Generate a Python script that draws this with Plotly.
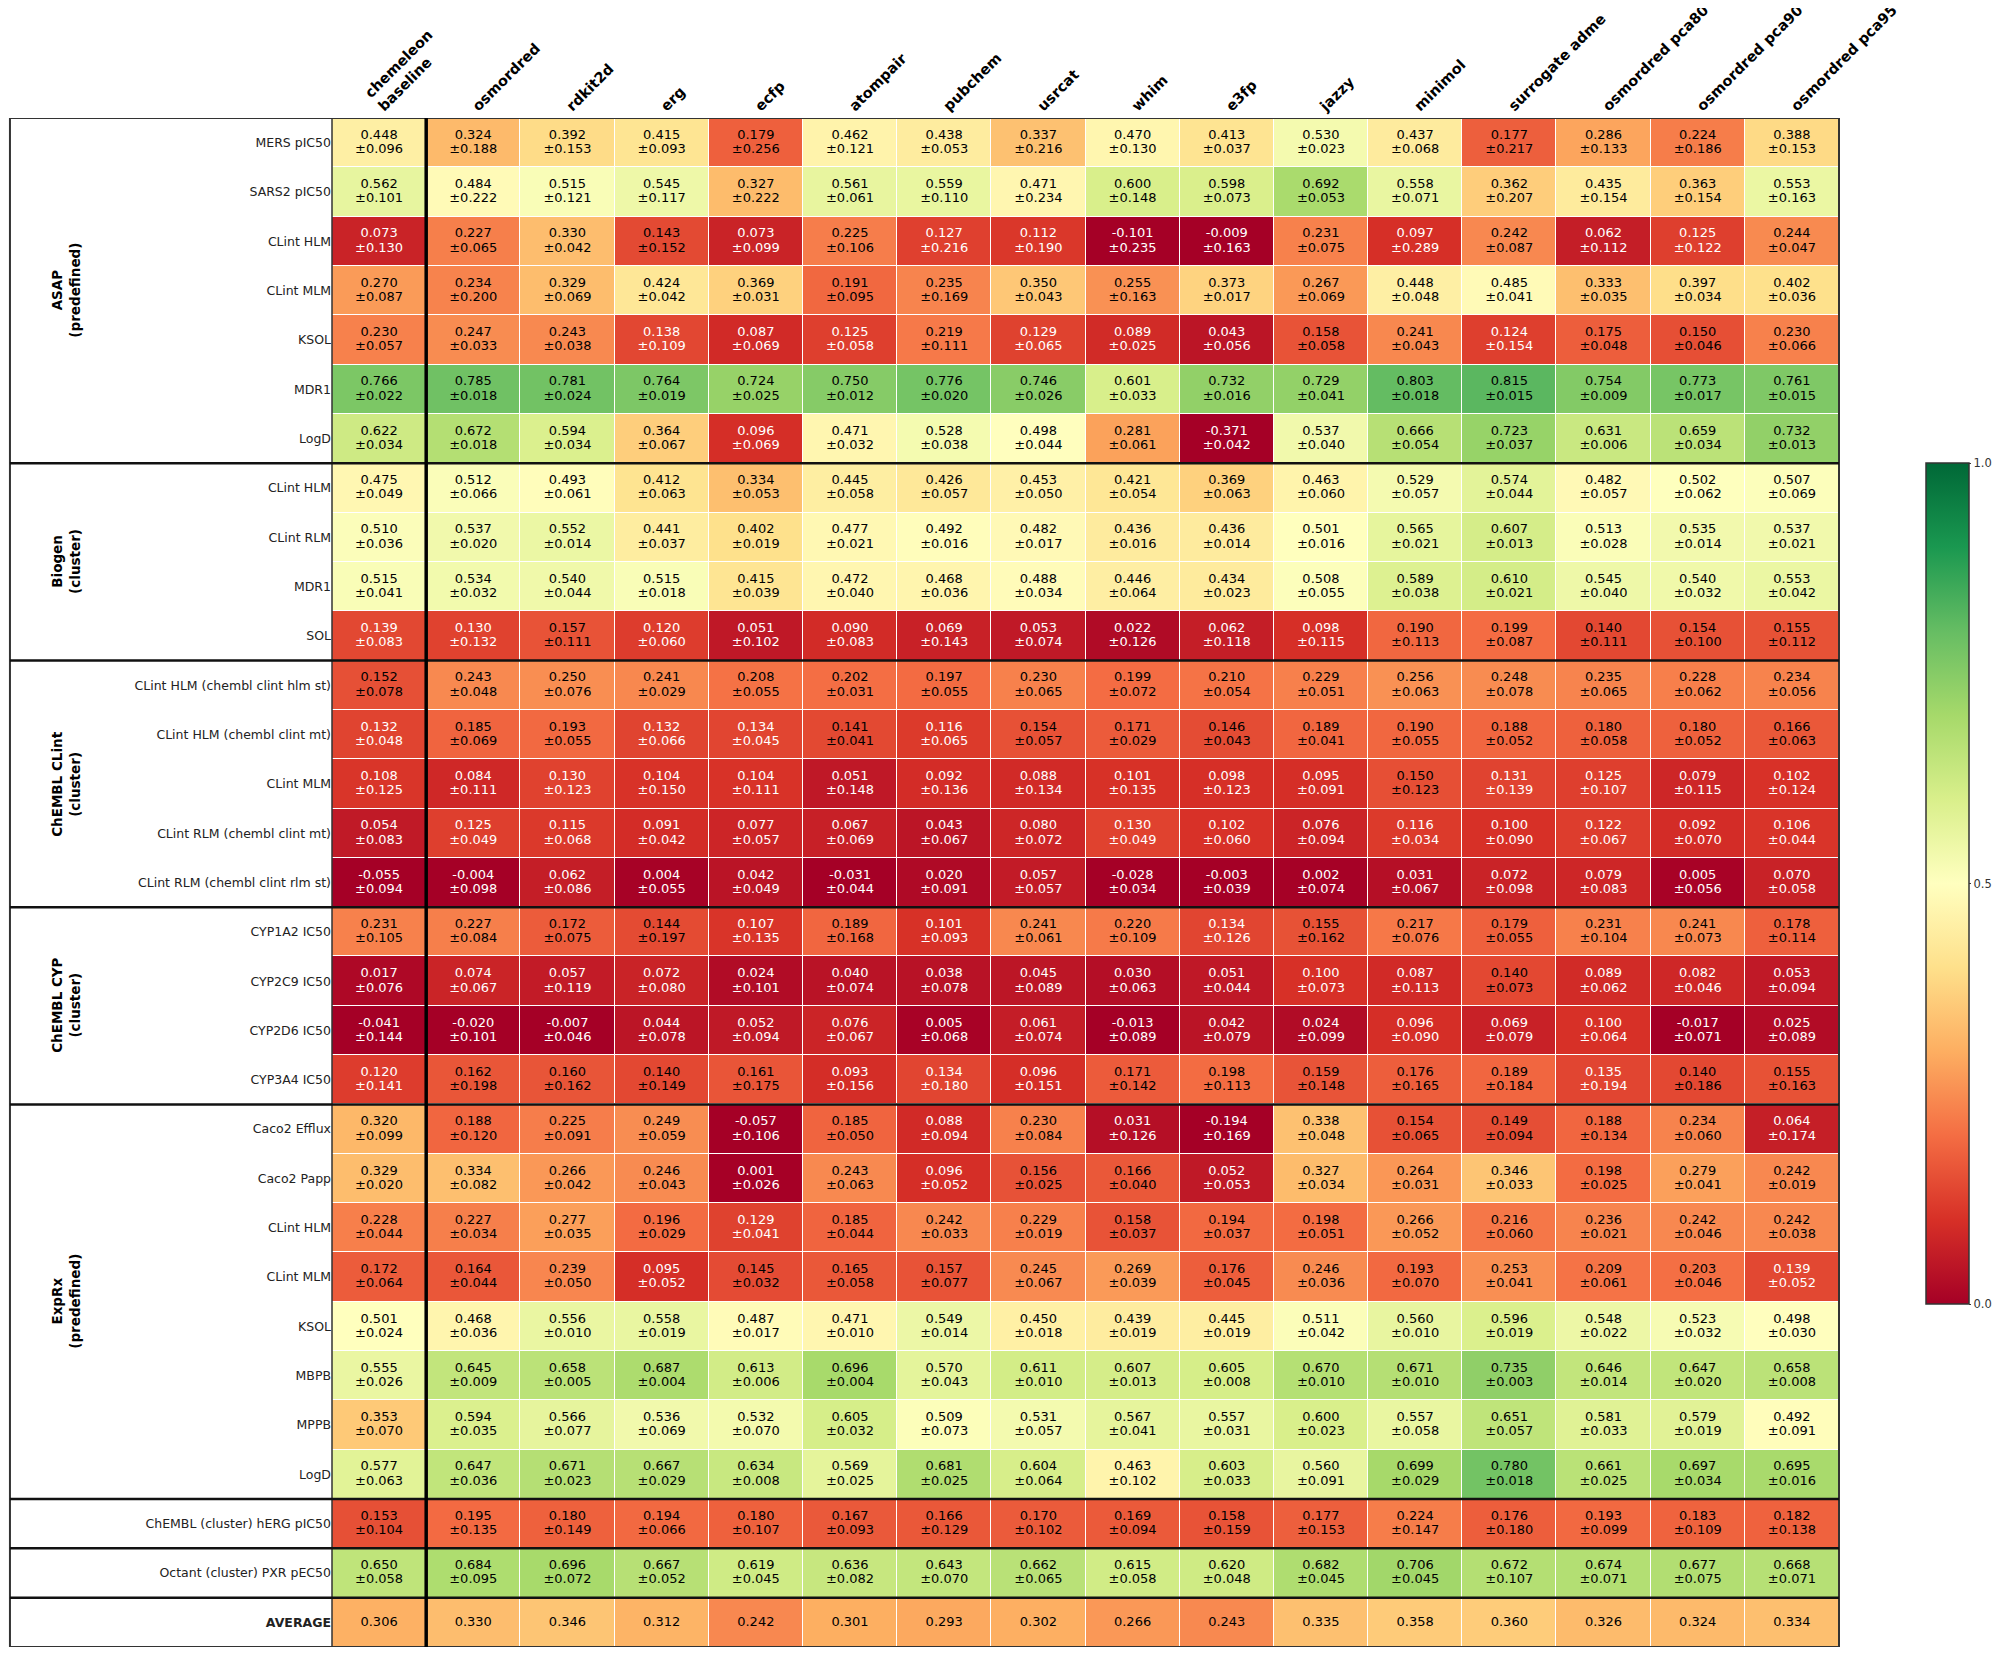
import plotly.graph_objects as go

# columns (featurizers)
METHODS = ["chemeleon<br>baseline", "osmordred", "rdkit2d", "erg", "ecfp", "atompair",
           "pubchem", "usrcat", "whim", "e3fp", "jazzy", "minimol", "surrogate adme",
           "osmordred pca80", "osmordred pca90", "osmordred pca95"]

# ---- ASAP (predefined)
ASAP_TASKS = ["MERS pIC50", "SARS2 pIC50", "CLint HLM", "CLint MLM", "KSOL", "MDR1", "LogD"]
ASAP_MEAN = [
    [0.448, 0.324, 0.392, 0.415, 0.179, 0.462, 0.438, 0.337, 0.470, 0.413, 0.530, 0.437, 0.177, 0.286, 0.224, 0.388],
    [0.562, 0.484, 0.515, 0.545, 0.327, 0.561, 0.559, 0.471, 0.600, 0.598, 0.692, 0.558, 0.362, 0.435, 0.363, 0.553],
    [0.073, 0.227, 0.330, 0.143, 0.073, 0.225, 0.127, 0.112, -0.101, -0.009, 0.231, 0.097, 0.242, 0.062, 0.125, 0.244],
    [0.270, 0.234, 0.329, 0.424, 0.369, 0.191, 0.235, 0.350, 0.255, 0.373, 0.267, 0.448, 0.485, 0.333, 0.397, 0.402],
    [0.230, 0.247, 0.243, 0.138, 0.087, 0.125, 0.219, 0.129, 0.089, 0.043, 0.158, 0.241, 0.124, 0.175, 0.150, 0.230],
    [0.766, 0.785, 0.781, 0.764, 0.724, 0.750, 0.776, 0.746, 0.601, 0.732, 0.729, 0.803, 0.815, 0.754, 0.773, 0.761],
    [0.622, 0.672, 0.594, 0.364, 0.096, 0.471, 0.528, 0.498, 0.281, -0.371, 0.537, 0.666, 0.723, 0.631, 0.659, 0.732],
]
ASAP_STD = [
    [0.096, 0.188, 0.153, 0.093, 0.256, 0.121, 0.053, 0.216, 0.130, 0.037, 0.023, 0.068, 0.217, 0.133, 0.186, 0.153],
    [0.101, 0.222, 0.121, 0.117, 0.222, 0.061, 0.110, 0.234, 0.148, 0.073, 0.053, 0.071, 0.207, 0.154, 0.154, 0.163],
    [0.130, 0.065, 0.042, 0.152, 0.099, 0.106, 0.216, 0.190, 0.235, 0.163, 0.075, 0.289, 0.087, 0.112, 0.122, 0.047],
    [0.087, 0.200, 0.069, 0.042, 0.031, 0.095, 0.169, 0.043, 0.163, 0.017, 0.069, 0.048, 0.041, 0.035, 0.034, 0.036],
    [0.057, 0.033, 0.038, 0.109, 0.069, 0.058, 0.111, 0.065, 0.025, 0.056, 0.058, 0.043, 0.154, 0.048, 0.046, 0.066],
    [0.022, 0.018, 0.024, 0.019, 0.025, 0.012, 0.020, 0.026, 0.033, 0.016, 0.041, 0.018, 0.015, 0.009, 0.017, 0.015],
    [0.034, 0.018, 0.034, 0.067, 0.069, 0.032, 0.038, 0.044, 0.061, 0.042, 0.040, 0.054, 0.037, 0.006, 0.034, 0.013],
]

# ---- Biogen (cluster)
BIOGEN_TASKS = ["CLint HLM", "CLint RLM", "MDR1", "SOL"]
BIOGEN_MEAN = [
    [0.475, 0.512, 0.493, 0.412, 0.334, 0.445, 0.426, 0.453, 0.421, 0.369, 0.463, 0.529, 0.574, 0.482, 0.502, 0.507],
    [0.510, 0.537, 0.552, 0.441, 0.402, 0.477, 0.492, 0.482, 0.436, 0.436, 0.501, 0.565, 0.607, 0.513, 0.535, 0.537],
    [0.515, 0.534, 0.540, 0.515, 0.415, 0.472, 0.468, 0.488, 0.446, 0.434, 0.508, 0.589, 0.610, 0.545, 0.540, 0.553],
    [0.139, 0.130, 0.157, 0.120, 0.051, 0.090, 0.069, 0.053, 0.022, 0.062, 0.098, 0.190, 0.199, 0.140, 0.154, 0.155],
]
BIOGEN_STD = [
    [0.049, 0.066, 0.061, 0.063, 0.053, 0.058, 0.057, 0.050, 0.054, 0.063, 0.060, 0.057, 0.044, 0.057, 0.062, 0.069],
    [0.036, 0.020, 0.014, 0.037, 0.019, 0.021, 0.016, 0.017, 0.016, 0.014, 0.016, 0.021, 0.013, 0.028, 0.014, 0.021],
    [0.041, 0.032, 0.044, 0.018, 0.039, 0.040, 0.036, 0.034, 0.064, 0.023, 0.055, 0.038, 0.021, 0.040, 0.032, 0.042],
    [0.083, 0.132, 0.111, 0.060, 0.102, 0.083, 0.143, 0.074, 0.126, 0.118, 0.115, 0.113, 0.087, 0.111, 0.100, 0.112],
]

# ---- ChEMBL CLint (cluster)
CLINT_TASKS = ["CLint HLM (chembl clint hlm st)", "CLint HLM (chembl clint mt)", "CLint MLM",
               "CLint RLM (chembl clint mt)", "CLint RLM (chembl clint rlm st)"]
CLINT_MEAN = [
    [0.152, 0.243, 0.250, 0.241, 0.208, 0.202, 0.197, 0.230, 0.199, 0.210, 0.229, 0.256, 0.248, 0.235, 0.228, 0.234],
    [0.132, 0.185, 0.193, 0.132, 0.134, 0.141, 0.116, 0.154, 0.171, 0.146, 0.189, 0.190, 0.188, 0.180, 0.180, 0.166],
    [0.108, 0.084, 0.130, 0.104, 0.104, 0.051, 0.092, 0.088, 0.101, 0.098, 0.095, 0.150, 0.131, 0.125, 0.079, 0.102],
    [0.054, 0.125, 0.115, 0.091, 0.077, 0.067, 0.043, 0.080, 0.130, 0.102, 0.076, 0.116, 0.100, 0.122, 0.092, 0.106],
    [-0.055, -0.004, 0.062, 0.004, 0.042, -0.031, 0.020, 0.057, -0.028, -0.003, 0.002, 0.031, 0.072, 0.079, 0.005, 0.070],
]
CLINT_STD = [
    [0.078, 0.048, 0.076, 0.029, 0.055, 0.031, 0.055, 0.065, 0.072, 0.054, 0.051, 0.063, 0.078, 0.065, 0.062, 0.056],
    [0.048, 0.069, 0.055, 0.066, 0.045, 0.041, 0.065, 0.057, 0.029, 0.043, 0.041, 0.055, 0.052, 0.058, 0.052, 0.063],
    [0.125, 0.111, 0.123, 0.150, 0.111, 0.148, 0.136, 0.134, 0.135, 0.123, 0.091, 0.123, 0.139, 0.107, 0.115, 0.124],
    [0.083, 0.049, 0.068, 0.042, 0.057, 0.069, 0.067, 0.072, 0.049, 0.060, 0.094, 0.034, 0.090, 0.067, 0.070, 0.044],
    [0.094, 0.098, 0.086, 0.055, 0.049, 0.044, 0.091, 0.057, 0.034, 0.039, 0.074, 0.067, 0.098, 0.083, 0.056, 0.058],
]

# ---- ChEMBL CYP (cluster)
CYP_TASKS = ["CYP1A2 IC50", "CYP2C9 IC50", "CYP2D6 IC50", "CYP3A4 IC50"]
CYP_MEAN = [
    [0.231, 0.227, 0.172, 0.144, 0.107, 0.189, 0.101, 0.241, 0.220, 0.134, 0.155, 0.217, 0.179, 0.231, 0.241, 0.178],
    [0.017, 0.074, 0.057, 0.072, 0.024, 0.040, 0.038, 0.045, 0.030, 0.051, 0.100, 0.087, 0.140, 0.089, 0.082, 0.053],
    [-0.041, -0.020, -0.007, 0.044, 0.052, 0.076, 0.005, 0.061, -0.013, 0.042, 0.024, 0.096, 0.069, 0.100, -0.017, 0.025],
    [0.120, 0.162, 0.160, 0.140, 0.161, 0.093, 0.134, 0.096, 0.171, 0.198, 0.159, 0.176, 0.189, 0.135, 0.140, 0.155],
]
CYP_STD = [
    [0.105, 0.084, 0.075, 0.197, 0.135, 0.168, 0.093, 0.061, 0.109, 0.126, 0.162, 0.076, 0.055, 0.104, 0.073, 0.114],
    [0.076, 0.067, 0.119, 0.080, 0.101, 0.074, 0.078, 0.089, 0.063, 0.044, 0.073, 0.113, 0.073, 0.062, 0.046, 0.094],
    [0.144, 0.101, 0.046, 0.078, 0.094, 0.067, 0.068, 0.074, 0.089, 0.079, 0.099, 0.090, 0.079, 0.064, 0.071, 0.089],
    [0.141, 0.198, 0.162, 0.149, 0.175, 0.156, 0.180, 0.151, 0.142, 0.113, 0.148, 0.165, 0.184, 0.194, 0.186, 0.163],
]

# ---- ExpRx (predefined)
EXPRX_TASKS = ["Caco2 Efflux", "Caco2 Papp", "CLint HLM", "CLint MLM", "KSOL", "MBPB", "MPPB", "LogD"]
EXPRX_MEAN = [
    [0.320, 0.188, 0.225, 0.249, -0.057, 0.185, 0.088, 0.230, 0.031, -0.194, 0.338, 0.154, 0.149, 0.188, 0.234, 0.064],
    [0.329, 0.334, 0.266, 0.246, 0.001, 0.243, 0.096, 0.156, 0.166, 0.052, 0.327, 0.264, 0.346, 0.198, 0.279, 0.242],
    [0.228, 0.227, 0.277, 0.196, 0.129, 0.185, 0.242, 0.229, 0.158, 0.194, 0.198, 0.266, 0.216, 0.236, 0.242, 0.242],
    [0.172, 0.164, 0.239, 0.095, 0.145, 0.165, 0.157, 0.245, 0.269, 0.176, 0.246, 0.193, 0.253, 0.209, 0.203, 0.139],
    [0.501, 0.468, 0.556, 0.558, 0.487, 0.471, 0.549, 0.450, 0.439, 0.445, 0.511, 0.560, 0.596, 0.548, 0.523, 0.498],
    [0.555, 0.645, 0.658, 0.687, 0.613, 0.696, 0.570, 0.611, 0.607, 0.605, 0.670, 0.671, 0.735, 0.646, 0.647, 0.658],
    [0.353, 0.594, 0.566, 0.536, 0.532, 0.605, 0.509, 0.531, 0.567, 0.557, 0.600, 0.557, 0.651, 0.581, 0.579, 0.492],
    [0.577, 0.647, 0.671, 0.667, 0.634, 0.569, 0.681, 0.604, 0.463, 0.603, 0.560, 0.699, 0.780, 0.661, 0.697, 0.695],
]
EXPRX_STD = [
    [0.099, 0.120, 0.091, 0.059, 0.106, 0.050, 0.094, 0.084, 0.126, 0.169, 0.048, 0.065, 0.094, 0.134, 0.060, 0.174],
    [0.020, 0.082, 0.042, 0.043, 0.026, 0.063, 0.052, 0.025, 0.040, 0.053, 0.034, 0.031, 0.033, 0.025, 0.041, 0.019],
    [0.044, 0.034, 0.035, 0.029, 0.041, 0.044, 0.033, 0.019, 0.037, 0.037, 0.051, 0.052, 0.060, 0.021, 0.046, 0.038],
    [0.064, 0.044, 0.050, 0.052, 0.032, 0.058, 0.077, 0.067, 0.039, 0.045, 0.036, 0.070, 0.041, 0.061, 0.046, 0.052],
    [0.024, 0.036, 0.010, 0.019, 0.017, 0.010, 0.014, 0.018, 0.019, 0.019, 0.042, 0.010, 0.019, 0.022, 0.032, 0.030],
    [0.026, 0.009, 0.005, 0.004, 0.006, 0.004, 0.043, 0.010, 0.013, 0.008, 0.010, 0.010, 0.003, 0.014, 0.020, 0.008],
    [0.070, 0.035, 0.077, 0.069, 0.070, 0.032, 0.073, 0.057, 0.041, 0.031, 0.023, 0.058, 0.057, 0.033, 0.019, 0.091],
    [0.063, 0.036, 0.023, 0.029, 0.008, 0.025, 0.025, 0.064, 0.102, 0.033, 0.091, 0.029, 0.018, 0.025, 0.034, 0.016],
]

# ---- single-task datasets
HERG_TASKS = ["ChEMBL (cluster) hERG pIC50"]
HERG_MEAN = [[0.153, 0.195, 0.180, 0.194, 0.180, 0.167, 0.166, 0.170, 0.169, 0.158, 0.177, 0.224, 0.176, 0.193, 0.183, 0.182]]
HERG_STD = [[0.104, 0.135, 0.149, 0.066, 0.107, 0.093, 0.129, 0.102, 0.094, 0.159, 0.153, 0.147, 0.180, 0.099, 0.109, 0.138]]

PXR_TASKS = ["Octant (cluster) PXR pEC50"]
PXR_MEAN = [[0.650, 0.684, 0.696, 0.667, 0.619, 0.636, 0.643, 0.662, 0.615, 0.620, 0.682, 0.706, 0.672, 0.674, 0.677, 0.668]]
PXR_STD = [[0.058, 0.095, 0.072, 0.052, 0.045, 0.082, 0.070, 0.065, 0.058, 0.048, 0.045, 0.045, 0.107, 0.071, 0.075, 0.071]]

AVG_MEAN = [0.306, 0.330, 0.346, 0.312, 0.242, 0.301, 0.293, 0.302, 0.266, 0.243, 0.335, 0.358, 0.360, 0.326, 0.324, 0.334]

GROUPS = [
    ("ASAP<br>(predefined)", ASAP_TASKS, ASAP_MEAN, ASAP_STD),
    ("Biogen<br>(cluster)", BIOGEN_TASKS, BIOGEN_MEAN, BIOGEN_STD),
    ("ChEMBL CLint<br>(cluster)", CLINT_TASKS, CLINT_MEAN, CLINT_STD),
    ("ChEMBL CYP<br>(cluster)", CYP_TASKS, CYP_MEAN, CYP_STD),
    ("ExpRx<br>(predefined)", EXPRX_TASKS, EXPRX_MEAN, EXPRX_STD),
    (None, HERG_TASKS, HERG_MEAN, HERG_STD),
    (None, PXR_TASKS, PXR_MEAN, PXR_STD),
]

LINE_OFF = 0.145  # half the gap between mean / std lines, in row units


def _txtcolor(m):
    return "white" if m < 0.14 else "black"


# assemble rows
labels, z = [], []
mx, my, mt, mc = [], [], [], []   # mean text
sx, sy, st, sc = [], [], [], []   # std text
group_spans = []
r = 0
for gname, tasks, means, stds in GROUPS:
    start = r
    for task, mrow, srow in zip(tasks, means, stds):
        labels.append(task)
        z.append(mrow)
        for c, (m, s) in enumerate(zip(mrow, srow)):
            mx.append(c); my.append(r - LINE_OFF); mt.append(f"{m:.3f}"); mc.append(_txtcolor(m))
            sx.append(c); sy.append(r + LINE_OFF); st.append(f"±{s:.3f}"); sc.append(_txtcolor(m))
        r += 1
    group_spans.append((gname, start, r - 1))
labels.append("<b>AVERAGE</b>")
z.append(AVG_MEAN)
for c, m in enumerate(AVG_MEAN):
    mx.append(c); my.append(r); mt.append(f"{m:.3f}"); mc.append(_txtcolor(m))
n_rows = r + 1
n_cols = len(METHODS)

FONT = "DejaVu Sans"
LEFT_EDGE = -0.2137   # paper x of table frame left side
GROUP_X = -0.1765
CELL_FS = 13

fig = go.Figure()
fig.add_trace(go.Heatmap(
    z=z, x=list(range(n_cols)), y=list(range(n_rows)),
    colorscale="RdYlGn", zmin=0, zmax=1, xgap=1, ygap=1,
    hoverinfo="skip",
    colorbar=dict(x=1.0577, xanchor="left", y=0.4993, yanchor="middle", len=0.55,
                  thickness=43, xpad=0, ypad=0, outlinewidth=1.5, outlinecolor="#333",
                  tickvals=[0, 0.5, 1], ticktext=["0.0", "0.5", "1.0"],
                  ticks="outside", ticklen=2, tickcolor="#333",
                  tickfont=dict(family=FONT, size=11.5, color="#333")),
))
fig.add_trace(go.Scatter(
    x=mx, y=my, mode="text", text=mt,
    textfont=dict(family=FONT, size=CELL_FS, color=mc),
    hoverinfo="skip", showlegend=False,
))
fig.add_trace(go.Scatter(
    x=sx, y=sy, mode="text", text=st,
    textfont=dict(family=FONT, size=CELL_FS, color=sc),
    hoverinfo="skip", showlegend=False,
))

shapes = []
# outer frame
shapes.append(dict(type="rect", xref="paper", yref="y", x0=LEFT_EDGE, x1=1, y0=-0.5, y1=n_rows - 0.5,
                   line=dict(color="#333", width=2)))
# label / heatmap boundary
shapes.append(dict(type="line", xref="paper", yref="y", x0=0, x1=0, y0=-0.5, y1=n_rows - 0.5,
                   line=dict(color="#333", width=1.5)))
# group separators
for _, _, end in group_spans:
    b = end + 0.5
    shapes.append(dict(type="line", xref="paper", yref="y", x0=LEFT_EDGE, x1=1, y0=b, y1=b,
                       line=dict(color="#111", width=2.5)))
# baseline separator
shapes.append(dict(type="line", xref="x", yref="y", x0=0.5, x1=0.5, y0=-0.5, y1=n_rows - 0.5,
                   line=dict(color="black", width=3.5)))

annotations = []
for gname, s, e in group_spans:
    if gname is None:
        continue
    annotations.append(dict(xref="paper", yref="y", x=GROUP_X, y=(s + e) / 2, text=f"<b>{gname}</b>",
                            textangle=-90, showarrow=False, xanchor="center", yanchor="middle",
                            font=dict(family=FONT, size=13.5, color="black")))

# page body adds an 8px offset, so the figure is sized to fit the window
fig.update_layout(
    width=1992, height=1649,
    margin=dict(l=324, r=161, t=110, b=10, autoexpand=False),
    paper_bgcolor="white", plot_bgcolor="white",
    font=dict(family=FONT, color="#222"),
    shapes=shapes, annotations=annotations,
    showlegend=False,
)
fig.update_xaxes(range=[-0.5, n_cols - 0.5], side="top", tickvals=list(range(n_cols)),
                 ticktext=[f"<b>{m}</b>" for m in METHODS], tickangle=-45,
                 tickfont=dict(family=FONT, size=14.5, color="black"), automargin=False,
                 showgrid=False, zeroline=False, ticks="", showline=False)
fig.update_yaxes(range=[n_rows - 0.5, -0.5], tickvals=list(range(n_rows)), ticktext=labels,
                 tickfont=dict(family=FONT, size=12.5, color="#222"), automargin=False,
                 showgrid=False, zeroline=False, ticks="", showline=False)

fig.write_html("out.html")
